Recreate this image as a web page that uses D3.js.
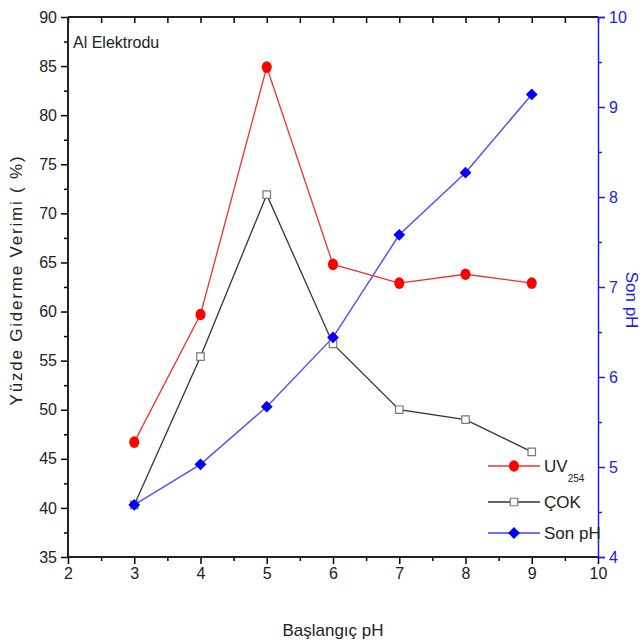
<!DOCTYPE html>
<html lang="tr">
<head>
<meta charset="UTF-8">
<title>Al Elektrodu</title>
<script src="https://d3js.org/d3.v7.min.js"></script>
<style>
    body { margin: 0; background: #fff; }
    text { font-family: 'Liberation Sans', Arial, sans-serif; fill: #222; }
    .tick text { font-size: 16px; }
</style>
</head>
<body>
<script>
    const width = 644, height = 644;
    const margin = {left: 68, right: 46, top: 17, bottom: 87};

    // data
    const startPH = [3, 4, 5, 6, 7, 8, 9];
    const uv254 = [46.7, 59.7, 84.9, 64.8, 62.9, 63.8, 62.9];
    const cok = [40.3, 55.4, 71.9, 56.7, 50.0, 49.0, 45.7];
    const sonPH = [4.58, 5.03, 5.67, 6.44, 7.58, 8.27, 9.14];

    const xTicks = [2, 3, 4, 5, 6, 7, 8, 9, 10];
    const yTicks = [35, 40, 45, 50, 55, 60, 65, 70, 75, 80, 85, 90];
    const y2Ticks = [4, 5, 6, 7, 8, 9, 10];

    const svg = d3.select('body').append('svg')
        .attr('width', width)
        .attr('height', height);

    const x = d3.scaleLinear().domain([2, 10]).range([margin.left, width - margin.right]);
    const y = d3.scaleLinear().domain([35, 90]).range([height - margin.bottom, margin.top]);
    const y2 = d3.scaleLinear().domain([4, 10]).range([height - margin.bottom, margin.top]);

    const x0 = x.range()[0], x1 = x.range()[1];
    const yb = y.range()[0], yt = y.range()[1];

    // minor ticks
    const xMinor = d3.range(2.5, 10, 1);
    const yMinor = d3.range(37.5, 90, 5);
    const y2Minor = d3.range(4.5, 10, 1);

    const g = svg.append('g');

    // bottom axis
    g.append('g').attr('transform', 'translate(0,' + yb + ')')
        .call(d3.axisBottom(x).tickValues(xTicks).tickSize(7).tickPadding(4).tickFormat(d3.format('d')));
    g.append('g').attr('transform', 'translate(0,' + yb + ')')
        .call(d3.axisBottom(x).tickValues(xMinor).tickSize(4).tickFormat(''))
        .call(a => a.select('.domain').remove());

    // top axis, ticks pointing in
    g.append('g').attr('transform', 'translate(0,' + yt + ')')
        .call(d3.axisBottom(x).tickValues(xTicks.concat(xMinor)).tickSize(6).tickFormat(''))
        .call(a => a.select('.domain').remove());

    // left axis
    g.append('g').attr('transform', 'translate(' + x0 + ',0)')
        .call(d3.axisLeft(y).tickValues(yTicks).tickSize(7).tickPadding(4).tickFormat(d3.format('d')));
    g.append('g').attr('transform', 'translate(' + x0 + ',0)')
        .call(d3.axisLeft(y).tickValues(yMinor).tickSize(4).tickFormat(''))
        .call(a => a.select('.domain').remove());

    // right axis in blue
    const blue = '#2020ee';
    const right = g.append('g').attr('transform', 'translate(' + x1 + ',0)')
        .call(d3.axisRight(y2).tickValues(y2Ticks).tickSize(7).tickPadding(4).tickFormat(d3.format('d')));
    g.append('g').attr('transform', 'translate(' + x1 + ',0)')
        .call(d3.axisRight(y2).tickValues(y2Minor).tickSize(4).tickFormat(''))
        .call(a => a.select('.domain').remove())
        .selectAll('line').attr('stroke', blue);
    right.selectAll('line').attr('stroke', blue);
    right.select('.domain').attr('stroke', blue).attr('stroke-width', 1.5);
    right.selectAll('text').style('fill', blue);

    g.selectAll('.tick line').attr('stroke-width', 1.5);

    // frame lines (top, bottom, left)
    g.selectAll('.domain').filter(function() { return this.parentNode !== right.node(); }).remove();
    g.append('line').attr('x1', x0).attr('x2', x1).attr('y1', yt).attr('y2', yt)
        .attr('stroke', '#222').attr('stroke-width', 2);
    g.append('line').attr('x1', x0).attr('x2', x1).attr('y1', yb).attr('y2', yb)
        .attr('stroke', '#222').attr('stroke-width', 2);
    g.append('line').attr('x1', x0).attr('x2', x0).attr('y1', yt).attr('y2', yb)
        .attr('stroke', '#222').attr('stroke-width', 2);

    // series
    const uvData = startPH.map((d, i) => ({x: d, y: uv254[i]}));
    const cokData = startPH.map((d, i) => ({x: d, y: cok[i]}));
    const phData = startPH.map((d, i) => ({x: d, y: sonPH[i]}));

    const lineL = d3.line().x(d => x(d.x)).y(d => y(d.y));
    const lineR = d3.line().x(d => x(d.x)).y(d => y2(d.y));

    svg.append('path').datum(uvData).attr('d', lineL)
        .attr('fill', 'none').attr('stroke', '#f03030').attr('stroke-width', 1.3);
    svg.append('path').datum(cokData).attr('d', lineL)
        .attr('fill', 'none').attr('stroke', '#333').attr('stroke-width', 1.3);
    svg.append('path').datum(phData).attr('d', lineR)
        .attr('fill', 'none').attr('stroke', '#5555ee').attr('stroke-width', 1.5);

    const circle = d3.symbol().type(d3.symbolCircle).size(80);
    const square = d3.symbol().type(d3.symbolSquare).size(56);
    const diamond = d3.symbol().type(d3.symbolSquare).size(70);

    svg.selectAll('.uv').data(uvData).join('path')
        .attr('class', 'uv')
        .attr('d', circle)
        .attr('transform', d => 'translate(' + x(d.x) + ',' + y(d.y) + ') scale(1,1.15)')
        .attr('fill', '#ff0000');

    svg.selectAll('.cok').data(cokData).join('path')
        .attr('class', 'cok')
        .attr('d', square)
        .attr('transform', d => 'translate(' + x(d.x) + ',' + y(d.y) + ')')
        .attr('fill', '#fff').attr('stroke', '#777').attr('stroke-width', 1.2);

    svg.selectAll('.ph').data(phData).join('path')
        .attr('class', 'ph')
        .attr('d', diamond)
        .attr('transform', d => 'translate(' + x(d.x) + ',' + y2(d.y) + ') rotate(45)')
        .attr('fill', '#0000ff');

    // legend
    const legend = svg.append('g').attr('transform', 'translate(488,466)');
    const items = [
        {label: 'UV', sub: '254', color: '#f03030', sym: circle, fill: '#ff0000', stroke: 'none', tf: ' scale(1,1.15)'},
        {label: 'ÇOK', color: '#333', sym: square, fill: '#fff', stroke: '#777', tf: ''},
        {label: 'Son pH', color: '#4444ee', sym: diamond, fill: '#0000ff', stroke: 'none', tf: ' rotate(45)'}
    ];
    const rowY = [0, 36, 67];
    items.forEach((it, i) => {
        const row = legend.append('g').attr('transform', 'translate(0,' + rowY[i] + ')');
        row.append('line').attr('x1', 0).attr('x2', 52).attr('y1', 0).attr('y2', 0)
            .attr('stroke', it.color).attr('stroke-width', 1.5);
        row.append('path').attr('d', it.sym)
            .attr('transform', 'translate(26,0)' + it.tf)
            .attr('fill', it.fill).attr('stroke', it.stroke).attr('stroke-width', 1.2);
        const t = row.append('text').attr('x', 56).attr('y', 6).style('font-size', '17px').text(it.label);
        if (it.sub) {
            t.append('tspan').attr('dy', 10).style('font-size', '10px').text(it.sub);
        }
    });

    // annotation
    svg.append('text').attr('x', 73).attr('y', 48).style('font-size', '16px').text('Al Elektrodu');

    // axis titles
    svg.append('text')
        .attr('transform', 'translate(22,' + 280 + ') rotate(-90)')
        .attr('text-anchor', 'middle')
        .style('font-size', '17px')
        .style('letter-spacing', '1.8px')
        .text('Yüzde Giderme Verimi ( %)');

    svg.append('text')
        .attr('transform', 'translate(626,' + 300 + ') rotate(90)')
        .attr('text-anchor', 'middle')
        .style('font-size', '17px')
        .style('fill', blue)
        .text('Son pH');

    svg.append('text')
        .attr('x', (x0 + x1) / 2)
        .attr('y', 636)
        .attr('text-anchor', 'middle')
        .style('font-size', '17px')
        .text('Başlangıç pH');
</script>
</body>
</html>
